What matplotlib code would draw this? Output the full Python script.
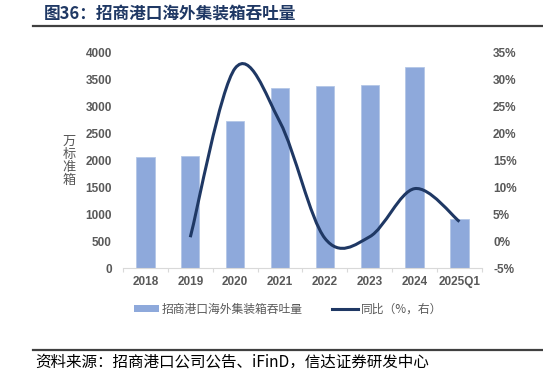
import matplotlib.pyplot as plt
import numpy as np
from matplotlib.path import Path
from matplotlib.patches import PathPatch, Patch
from matplotlib.lines import Line2D

plt.rcParams['font.family'] = ['Liberation Sans', 'Noto Sans CJK SC', 'DejaVu Sans']

# 数据
years = ['2018', '2019', '2020', '2021', '2022', '2023', '2024', '2025Q1']
throughput = [2050, 2070, 2730, 3330, 3370, 3390, 3720, 910]   # 万标准箱
yoy = [None, 0.7, 32.0, 22.0, 0.5, 0.8, 9.7, 3.6]              # %

bar_color = '#8EA9DB'
line_color = '#1F3864'
tick_color = '#595959'
cjk = ['Noto Sans CJK SC', 'DejaVu Sans']

fig = plt.figure(figsize=(5.43, 3.75), dpi=100)
ax = fig.add_axes([0.2265, 0.2853, 0.661, 0.576])
ax2 = ax.twinx()

x = np.arange(len(years))
ax.bar(x, throughput, width=0.41, color=bar_color, edgecolor='#B4C7E7', linewidth=0.6, zorder=2)
ax.set_xlim(-0.5, len(years) - 0.5)
ax.set_ylim(0, 4000)
ax.set_yticks(range(0, 4001, 500))
ax.set_xticks(x)
ax.set_xticklabels(years)
ax.set_xticks(np.arange(-0.5, len(years)), minor=True)
ax.tick_params(axis='x', which='major', length=0, pad=6)
ax.tick_params(axis='x', which='minor', length=3, color='#D9D9D9', width=0.8)
ax.tick_params(axis='y', length=0, pad=8)
for lab in ax.get_xticklabels() + ax.get_yticklabels():
    lab.set_fontsize(8.5)
    lab.set_fontweight('bold')
    lab.set_color(tick_color)
for s in ['top', 'left', 'right']:
    ax.spines[s].set_visible(False)
ax.spines['bottom'].set_color('#D9D9D9')

# 平滑曲线（Excel 风格贝塞尔）
pts = [(i, v) for i, v in enumerate(yoy) if v is not None]
P = np.array(pts, dtype=float)
verts = [tuple(P[0])]
codes = [Path.MOVETO]
n = len(P)
for i in range(n - 1):
    p0 = P[max(i - 1, 0)]
    p1 = P[i]
    p2 = P[i + 1]
    p3 = P[min(i + 2, n - 1)]
    c1 = p1 + (p2 - p0) / 6
    c2 = p2 - (p3 - p1) / 6
    verts += [tuple(c1), tuple(c2), tuple(p2)]
    codes += [Path.CURVE4] * 3
ax2.add_patch(PathPatch(Path(verts, codes), facecolor='none', edgecolor=line_color,
                        linewidth=2.2, capstyle='butt', zorder=3))
ax2.set_ylim(-5, 35)
ax2.set_yticks(range(-5, 36, 5))
ax2.set_yticklabels(['%d%%' % v for v in range(-5, 36, 5)])
ax2.tick_params(axis='y', length=0, pad=8)
for lab in ax2.get_yticklabels():
    lab.set_fontsize(8.5)
    lab.set_fontweight('bold')
    lab.set_color(tick_color)
for s in ['top', 'left', 'right', 'bottom']:
    ax2.spines[s].set_visible(False)

# 纵轴标题（竖排）
fig.text(69 / 543, 1 - 161 / 375, '万\n标\n准\n箱', family=cjk, fontsize=9.5, color=tick_color,
         ha='center', va='center', linespacing=1.0)

# 图例
handles = [Patch(facecolor=bar_color, edgecolor='none'),
           Line2D([], [], color=line_color, linewidth=2.2)]
fig.legend(handles, ['招商港口海外集装箱吞吐量', '同比（%，右）'], loc='center',
           bbox_to_anchor=(0.53, 1 - 309 / 375), ncol=2, frameon=False,
           prop={'family': cjk, 'size': 8.5}, handlelength=2.2, handleheight=0.5,
           handletextpad=0.2, columnspacing=2.5, labelcolor=tick_color)

# 标题与来源
fig.text(44 / 543, 1 - 14 / 375, '图36：招商港口海外集装箱吞吐量', family=cjk, fontsize=12,
         fontweight='bold', color='#1F3864', ha='left', va='center')
fig.add_artist(Line2D([33 / 543, 1.0], [1 - 26 / 375] * 2, color='#404040', linewidth=1.6))
fig.add_artist(Line2D([33 / 543, 1.0], [1 - 350 / 375] * 2, color='#404040', linewidth=1.6))
fig.text(35 / 543, 1 - 362 / 375, '资料来源：招商港口公司公告、iFinD，信达证券研发中心', family=cjk,
         fontsize=11.2, style='italic', color='#000000', ha='left', va='center')

fig.savefig('out.png', dpi=100)
